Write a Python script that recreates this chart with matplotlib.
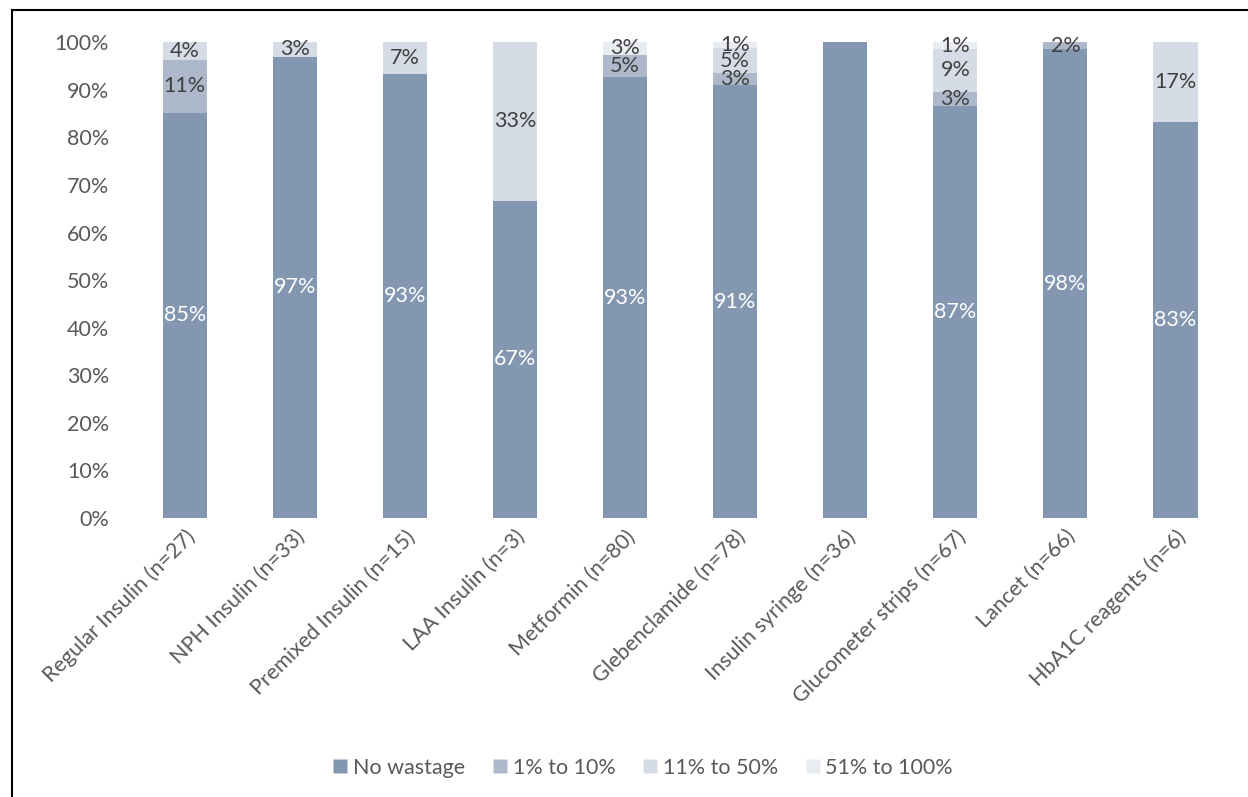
import numpy as np
import matplotlib
matplotlib.use("Agg")
import matplotlib.pyplot as plt
from matplotlib.lines import Line2D

plt.rcParams["font.family"] = ["Lato", "DejaVu Sans"]

categories = ["Regular Insulin (n=27)", "NPH Insulin (n=33)", "Premixed Insulin (n=15)",
              "LAA Insulin (n=3)", "Metformin (n=80)", "Glebenclamide (n=78)",
              "Insulin syringe (n=36)", "Glucometer strips (n=67)", "Lancet (n=66)",
              "HbA1C reagents (n=6)"]
no_wastage = [85.2, 97.0, 93.3, 66.7, 92.6, 91.0, 100.0, 86.6, 98.5, 83.3]
w_1_10 = [11.1, 0, 0, 0, 4.8, 2.6, 0, 3.0, 1.5, 0]
w_11_50 = [3.7, 3.0, 6.7, 33.3, 0, 5.1, 0, 9.0, 0, 16.7]
w_51_100 = [0, 0, 0, 0, 2.6, 1.3, 0, 1.4, 0, 0]

series = [("No wastage", no_wastage, "#8497b0", "white"),
          ("1% to 10%", w_1_10, "#adb9ca", "#404040"),
          ("11% to 50%", w_11_50, "#d6dce5", "#404040"),
          ("51% to 100%", w_51_100, "#e9ecf1", "#404040")]

FS = 15.5

fig = plt.figure(figsize=(12.48, 7.97), dpi=100)
ax = fig.add_axes([0.104, 0.350, 0.882, 0.597])
x = np.arange(len(categories))
bottom = np.zeros(len(categories))
for name, vals, col, tcol in series:
    v = np.array(vals, dtype=float)
    ax.bar(x, v, bottom=bottom, width=0.4, color=col, edgecolor="none", label=name)
    for i in range(len(x)):
        if v[i] > 0 and not (name == "No wastage" and v[i] >= 99.9):
            ax.text(x[i], bottom[i] + v[i] / 2, f"{v[i]:.0f}%", ha="center", va="center",
                    fontsize=FS, color=tcol)
    bottom += v

ax.set_xlim(-0.5, len(categories) - 0.5)
ax.set_ylim(0, 100)
ax.set_yticks(np.arange(0, 101, 10))
ax.set_yticklabels([f"{t}%" for t in range(0, 101, 10)])
ax.set_xticks(x)
ax.set_xticklabels(categories, rotation=45, ha="right", rotation_mode="anchor")
ax.tick_params(axis="both", length=0, labelsize=FS, colors="#595959", pad=6)
ax.tick_params(axis="y", pad=15)
for s in ax.spines.values():
    s.set_visible(False)

handles = [Line2D([], [], marker="s", ls="none", markersize=10, color=c, markeredgecolor="none")
           for _, _, c, _ in series]
fig.legend(handles, [s[0] for s in series], loc="center", bbox_to_anchor=(0.513, 0.037),
           ncol=4, frameon=False, fontsize=FS, handletextpad=0.0, columnspacing=1.0,
           handlelength=1.2, labelcolor="#595959")

# outer frame (left and top edges)
fig.add_artist(Line2D([0.01, 0.01], [0, 0.988], transform=fig.transFigure, color="black", lw=1.5))
fig.add_artist(Line2D([0.01, 1.0], [0.988, 0.988], transform=fig.transFigure, color="black", lw=1.5))

fig.savefig("out.png", dpi=100)
